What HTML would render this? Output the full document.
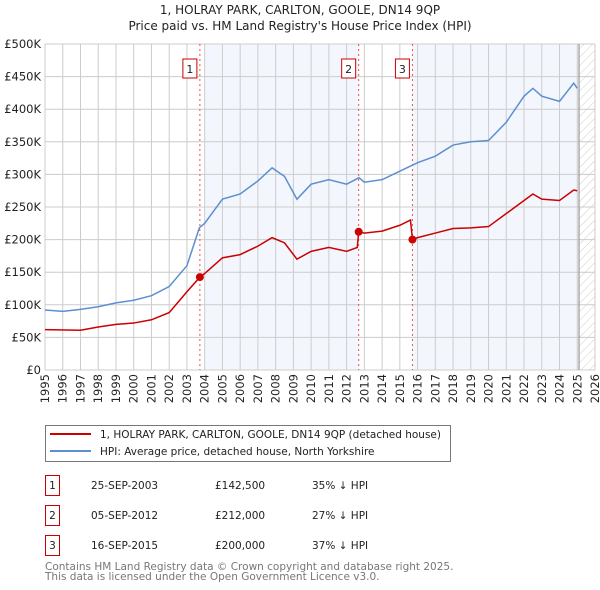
<!DOCTYPE html>
<html><head><meta charset="utf-8"><style>
body{margin:0;background:#fff;}
svg{display:block;font-family:"DejaVu Sans","Liberation Sans",sans-serif;}
</style></head><body>
<svg id="c" width="600" height="590" xmlns="http://www.w3.org/2000/svg">
<defs><pattern id="hatch" width="6" height="6" patternUnits="userSpaceOnUse" patternTransform="rotate(45)"><line x1="0" y1="0" x2="0" y2="6" stroke="#ccc" stroke-width="1"/></pattern></defs>
<text x="300" y="14" text-anchor="middle" font-size="12" fill="#222">1, HOLRAY PARK, CARLTON, GOOLE, DN14 9QP</text>
<text x="300" y="30" text-anchor="middle" font-size="12" fill="#222">Price paid vs. HM Land Registry's House Price Index (HPI)</text>
<g id="bg"></g><g id="grid"></g><g id="axes"></g><g id="series"></g><g id="marks"></g>
<g>
<rect x="45.5" y="425.5" width="405" height="36" fill="#fff" stroke="#777"/>
<line x1="50" y1="434" x2="91" y2="434" stroke="#cc0000" stroke-width="2"/>
<text x="100" y="438" font-size="10.5" fill="#222">1, HOLRAY PARK, CARLTON, GOOLE, DN14 9QP (detached house)</text>
<line x1="50" y1="451" x2="91" y2="451" stroke="#5b8fd1" stroke-width="2"/>
<text x="100" y="455" font-size="10.5" fill="#222">HPI: Average price, detached house, North Yorkshire</text>
</g>
<g id="table" font-size="10.5" fill="#222"></g>
<text x="45" y="570" font-size="10.5" fill="#777">Contains HM Land Registry data © Crown copyright and database right 2025.</text>
<text x="45" y="580" font-size="10.5" fill="#777">This data is licensed under the Open Government Licence v3.0.</text>
</svg>
<script>
const hpiYears=[1995,1996,1997,1998,1999,2000,2001,2002,2003,2003.7,2004,2005,2006,2007,2007.8,2008.5,2009.2,2010,2011,2012,2012.7,2013,2014,2015,2016,2017,2018,2019,2020,2021,2022,2022.5,2023,2024,2024.8,2025];
const hpiValues=[92,90,93,97,103,107,114,128,160,218,225,262,270,290,310,297,262,285,292,285,295,288,292,305,318,328,345,350,352,380,420,432,420,412,440,432];
const ppYears=[1995,1997,1998,1999,2000,2001,2002,2003,2003.73,2004,2005,2006,2007,2007.8,2008.5,2009.2,2010,2011,2012,2012.6,2012.68,2013,2014,2015,2015.6,2015.71,2016,2017,2018,2019,2020,2021,2022,2022.5,2023,2024,2024.8,2025];
const ppValues=[62,61,66,70,72,77,88,120,142.5,148,172,177,190,203,195,170,182,188,182,188,212,210,213,222,230,200,203,210,217,218,220,240,260,270,262,260,276,275];
const saleLabels=["1","2","3"];
const saleYears=[2003.73,2012.68,2015.71];
const saleValues=[142.5,212,200];
const saleDates=["25-SEP-2003","05-SEP-2012","16-SEP-2015"];
const salePrices=["£142,500","£212,000","£200,000"];
const salePct=["35% ↓ HPI","27% ↓ HPI","37% ↓ HPI"];
const yTicks=[0,50,100,150,200,250,300,350,400,450,500];
const yTickLabels=["£0","£50K","£100K","£150K","£200K","£250K","£300K","£350K","£400K","£450K","£500K"];
const xTicks=[1995,1996,1997,1998,1999,2000,2001,2002,2003,2004,2005,2006,2007,2008,2009,2010,2011,2012,2013,2014,2015,2016,2017,2018,2019,2020,2021,2022,2023,2024,2025,2026];

const X0=45,X1=595,Y0=370,Y1=44;
const x=v=>X0+(v-1995)/(2026-1995)*(X1-X0);
const y=v=>Y0-(v/500)*(Y0-Y1);
const NS="http://www.w3.org/2000/svg";
function mk(tag,attrs,parent){const e=document.createElementNS(NS,tag);for(const k in attrs)e.setAttribute(k,attrs[k]);document.getElementById(parent).appendChild(e);return e;}

let r;
r=mk('rect',{x:x(2004),y:Y1,width:x(saleYears[1])-x(2004),height:Y0-Y1,fill:'#eef3fc',opacity:0.7},'bg');


r=mk('rect',{x:x(saleYears[2]),y:Y1,width:x(2025.1)-x(saleYears[2]),height:Y0-Y1,fill:'#eef3fc',opacity:0.7},'bg');


r=mk('rect',{x:x(2025.1),y:Y1,width:X1-x(2025.1),height:Y0-Y1,fill:'url(#hatch)'},'bg');



xTicks.forEach((t,i)=>{
 const l=mk('line',{x1:x(t),x2:x(t),y1:Y1,y2:Y0,stroke:'#ccc','stroke-width':1},'grid');
 
 
 const tx=mk('text',{x:0,y:0,'text-anchor':'end','font-size':11.5,fill:'#222',transform:'translate('+(x(t)+4)+',374) rotate(-90)'},'axes');
 
 
 tx.textContent=t;
});
yTicks.forEach((t,i)=>{
 const l=mk('line',{x1:X0,x2:X1,y1:y(t),y2:y(t),stroke:'#ccc','stroke-width':1},'grid');
 
 
 const tx=mk('text',{x:X0-4,y:y(t)+4,'text-anchor':'end','font-size':11.5,fill:'#222'},'axes');
 
 
 tx.textContent=yTickLabels[i];
});
r=mk('line',{x1:x(2025.1),x2:x(2025.1),y1:Y1,y2:Y0,stroke:'#999','stroke-width':1.2},'grid');



saleYears.forEach((s,i)=>{
 const l=mk('line',{x1:x(s),x2:x(s),y1:Y1,y2:Y0,stroke:'#e85050','stroke-width':1,'stroke-dasharray':'2,3'},'grid');
 
 
});

let p=mk('polyline',{points:hpiYears.map((t,i)=>x(t)+','+y(hpiValues[i])).join(' '),fill:'none',stroke:'#5b8fd1','stroke-width':1.5},'series');


p=mk('polyline',{points:ppYears.map((t,i)=>x(t)+','+y(ppValues[i])).join(' '),fill:'none',stroke:'#cc0000','stroke-width':1.5},'series');



saleYears.forEach((s,i)=>{
 const c=mk('circle',{cx:x(s),cy:y(saleValues[i]),r:4,fill:'#cc0000'},'marks');
 
 
 const b=mk('rect',{x:x(s)-17,y:59,width:14,height:19,fill:'#fff',stroke:'#cc0000'},'marks');
 
 
 const t=mk('text',{x:x(s)-10,y:73,'text-anchor':'middle','font-size':11,fill:'#222'},'marks');
 
 
 t.textContent=saleLabels[i];
 const ry=475+i*30;
 const tb=mk('rect',{x:45.5,y:ry+0.5,width:14,height:20,fill:'#fff',stroke:'#cc0000'},'table');
 
 
 const tn=mk('text',{x:52.5,y:ry+14,'text-anchor':'middle'},'table');
 
 
 tn.textContent=saleLabels[i];
 const td=mk('text',{x:91,y:ry+14},'table');
 
 
 td.textContent=saleDates[i];
 const tp=mk('text',{x:215,y:ry+14},'table');
 
 
 tp.textContent=salePrices[i];
 const tc=mk('text',{x:312,y:ry+14},'table');
 
 
 tc.textContent=salePct[i];
});
</script>
</body></html>
